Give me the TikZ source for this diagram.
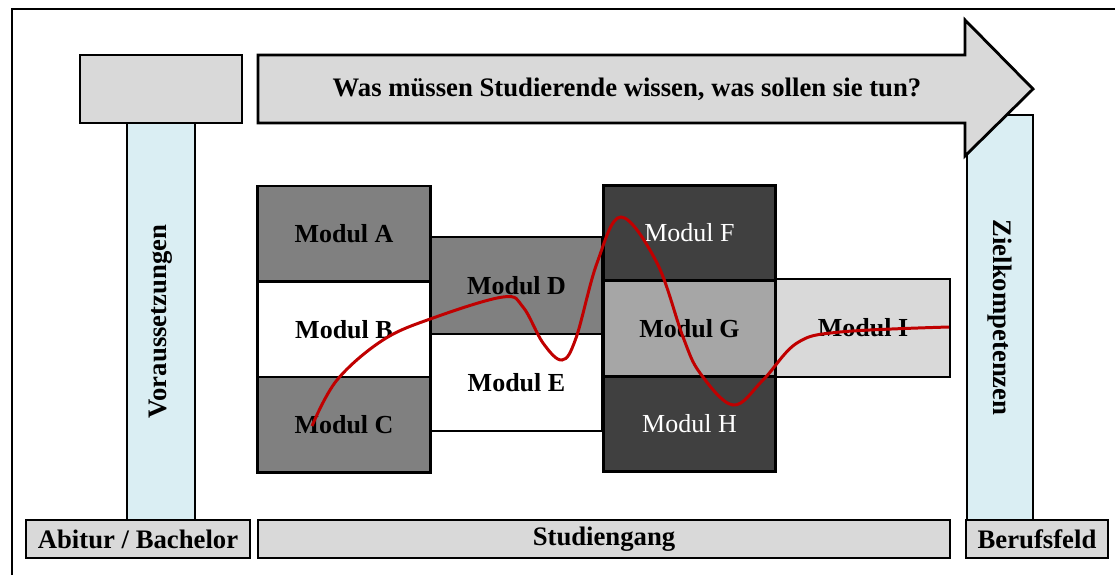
\documentclass[tikz,border=0pt]{standalone}
\usepackage{fontspec}
\setmainfont{Liberation Serif}
\usetikzlibrary{positioning}
\definecolor{fillLight}{HTML}{D9D9D9}
\definecolor{fillMid}{HTML}{808080}
\definecolor{fillSilver}{HTML}{A6A6A6}
\definecolor{fillDark}{HTML}{404040}
\definecolor{fillBlue}{HTML}{DAEEF3}
\definecolor{curveRed}{HTML}{C00000}
\newcommand{\labelfont}{\fontsize{15.2}{18}\selectfont}
\newcommand{\modulfont}{\fontsize{14.8}{18}\selectfont}

\begin{document}
\begin{tikzpicture}[x=0.02cm, y=-0.02cm,
	box/.style={draw, line width=1.6pt, inner sep=0pt, outer sep=0pt, font=\labelfont\bfseries},
	modul/.style={box, minimum width=3.45cm, minimum height=1.91cm, font=\modulfont\bfseries},
	lightmodul/.style={modul, fill=fillDark, text=white, font=\modulfont}]
	\useasboundingbox (0,0) rectangle (1115,575);
	
	% Frame
	\draw[line width=0.6pt] (12,575) -- (12,9) -- (1115,9);
	
	% Columns left and right
	\node[box, rotate=90, fill=fillBlue, minimum width=7.94cm, minimum height=1.36cm] (vor) at (161,321.5) {Voraussetzungen};
	\node[box, rotate=-90, fill=fillBlue, minimum width=8.1cm, minimum height=1.32cm] (ziel) at (1000,317.5) {Zielkompetenzen};
	
	% Top row
	\node[box, fill=fillLight, minimum width=3.24cm, minimum height=1.36cm] (vorbox) at (161,89) {};
	\draw[line width=1.6pt, fill=fillLight] (258,55) -- (965,55) -- (965,20) -- (1033,89)
		-- (965,156) -- (965,123) -- (258,123) -- cycle;
	\node[font=\labelfont\bfseries] (frage) at (627,89) {Was müssen Studierende wissen, was sollen sie tun?};
	
	% Bottom row
	\node[box, fill=fillLight, minimum width=4.48cm, minimum height=0.76cm] (abitur) at (138,539) {Abitur / Bachelor};
	\node[box, fill=fillLight, minimum width=13.84cm, minimum height=0.76cm] (studium) at (604,539) {Studiengang};
	\node[box, fill=fillLight, minimum width=2.84cm, minimum height=0.76cm] (beruf) at (1037,539) {Berufsfeld};
	
	% Modules
	\node[modul, fill=fillMid] (modA) at (344,233.75) {Modul A};
	\node[modul, fill=white, below=0pt of modA] (modB) {Modul B};
	\node[modul, fill=fillMid, below=0pt of modB] (modC) {Modul C};
	
	\node[modul, fill=fillMid, minimum height=1.94cm] (modD) at (516.5,285.5) {Modul D};
	\node[modul, fill=white, minimum height=1.94cm, below=0pt of modD] (modE) {Modul E};
	
	\node[lightmodul] (modF) at (689.5,233) {Modul F};
	\node[modul, fill=fillSilver, below=0pt of modF] (modG) {Modul G};
	\node[lightmodul, below=0pt of modG] (modH) {Modul H};
	
	\node[modul, fill=fillLight, minimum width=3.48cm, minimum height=1.96cm] (modI) at (863,328) {Modul I};
	
	% Path through the modules
	\draw[curveRed, line width=1.7pt] plot[smooth, tension=0.6] coordinates {
		(312,426) (337,380) (383,340) (433,318) (503,297) (523,307) (543,343)
		(562,360) (576,338) (597,263) (621,217) (657,263) (683,337) (700,373)
		(733,405) (763,380) (797,343) (840,332) (949,327)};
\end{tikzpicture}
\end{document}
